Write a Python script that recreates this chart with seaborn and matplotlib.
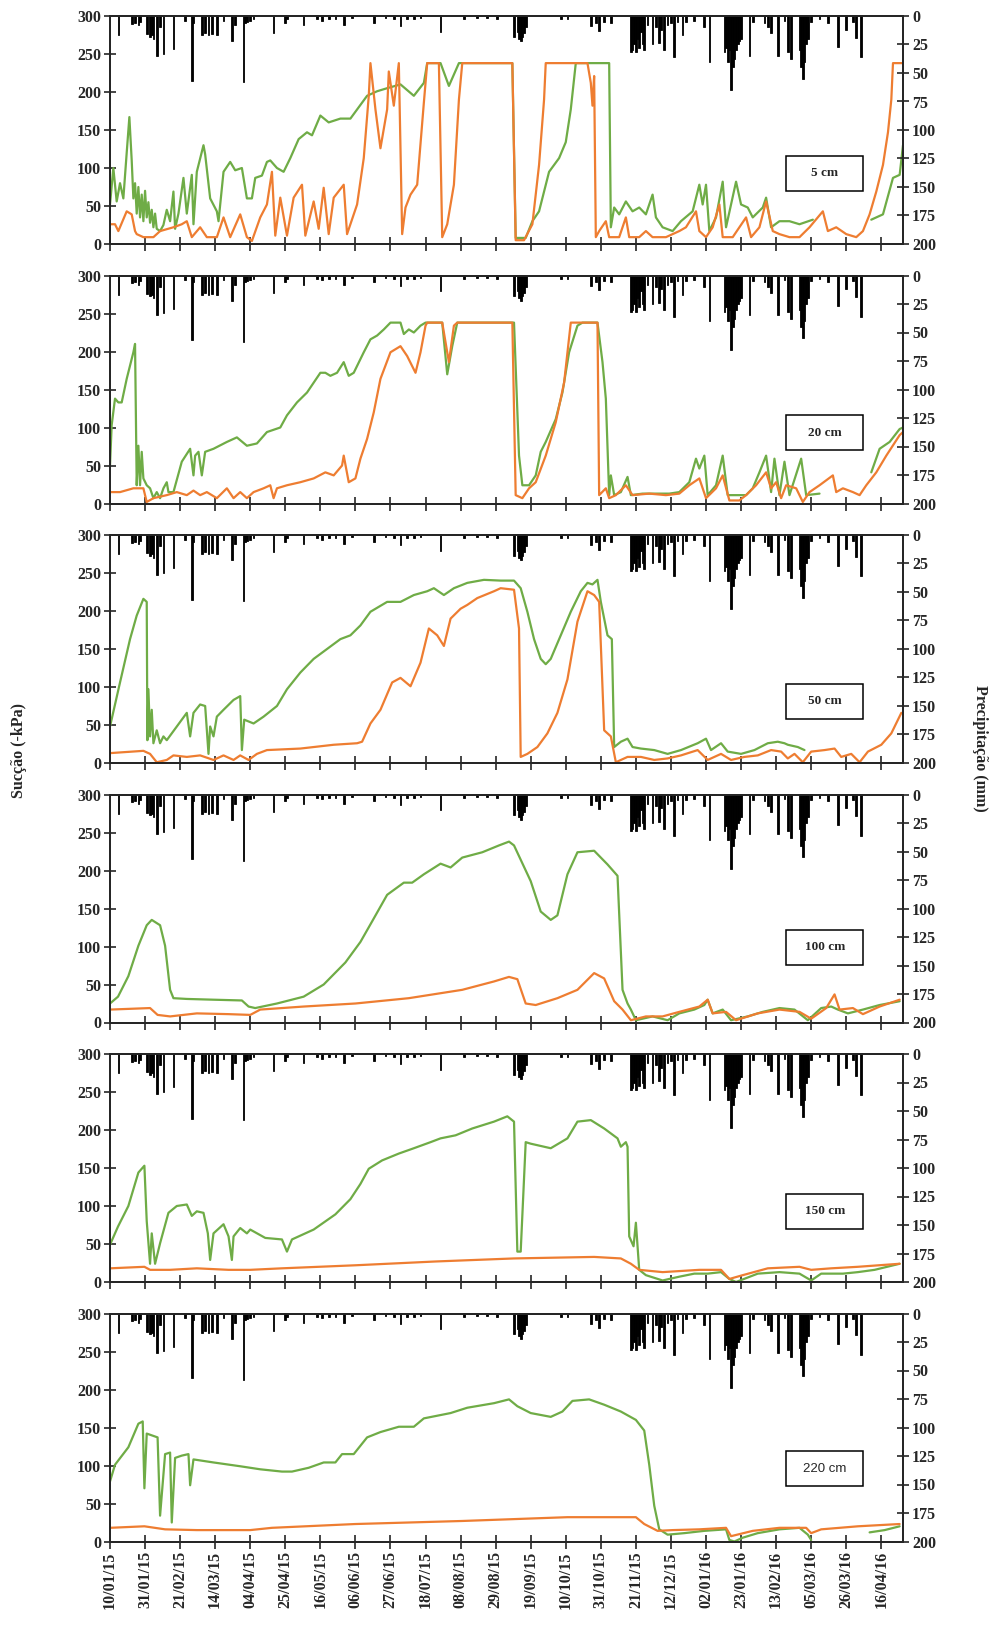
import numpy as np
import pandas as pd
import matplotlib
matplotlib.use("Agg")
import matplotlib.pyplot as plt
from matplotlib.patches import Rectangle
import seaborn as sns

# dias contados a partir de 10/01/15
datas = ['10/01/15', '31/01/15', '21/02/15', '14/03/15', '04/04/15', '25/04/15', '16/05/15',
         '06/06/15', '27/06/15', '18/07/15', '08/08/15', '29/08/15', '19/09/15', '10/10/15',
         '31/10/15', '21/11/15', '12/12/15', '02/01/16', '23/01/16', '13/02/16', '05/03/16',
         '26/03/16', '16/04/16']

# precipitacao diaria (mm)
chuva_dia = [5, 13, 15, 17, 18, 22, 24, 25, 26, 28, 30, 32, 38, 45, 49, 50, 55, 57, 59, 61, 64, 68,
             73, 75, 80, 81, 82, 84, 86, 98, 105, 106, 116, 124, 127, 131, 135, 140, 145, 158, 165,
             170, 174, 178, 182, 186, 198, 212, 220, 226, 232, 242, 244, 245, 246, 247, 248, 249,
             270, 274, 288, 291, 293, 296, 300, 312, 313, 314, 315, 316, 317, 318, 319, 320, 322,
             325, 327, 329, 330, 332, 334, 336, 338, 340, 343, 345, 350, 356, 359, 368, 369, 370,
             371, 372, 373, 374, 375, 376, 377, 378, 383, 385, 392, 394, 396, 400, 404, 406, 408,
             413, 414, 415, 416, 417, 418, 420, 425, 430, 436, 441, 445, 447, 450]
chuva_mm = [17, 7, 6, 8, 5, 16, 18, 17, 20, 35, 10, 33, 29, 4, 57, 6, 17, 15, 17, 16, 17, 4,
            22, 8, 58, 6, 5, 4, 3, 15, 6, 3, 8, 3, 4, 3, 3, 8, 2, 6, 2,
            3, 9, 3, 3, 2, 14, 3, 2, 2, 3, 18, 14, 20, 22, 18, 15, 10,
            3, 3, 9, 6, 13, 5, 6, 32, 30, 25, 32, 20, 28, 14, 25, 30, 8,
            25, 10, 24, 12, 30, 8, 6, 36, 5, 17, 5, 4, 10, 40, 32, 28, 40,
            30, 65, 45, 38, 30, 25, 22, 20, 35, 5, 6, 10, 15, 35, 4, 32, 38,
            30, 45, 55, 40, 25, 20, 5, 3, 6, 27, 12, 5, 19, 36]

# succao (-kPa), None = falha na serie
verde_5_dia = [0, 2, 4, 6, 8, 10, 11.6, 13, 14, 15, 16, 17, 18, 19, 20, 21, 22, 23, 24, 25, 26, 27,
               28, 30, 32, 34, 36, 38, 39, 41, 44, 46, 49, 50, 52, 56, 57, 60, 64, 65, 68, 72, 75,
               79, 82, 85, 87, 91, 94, 96, 100, 104, 108, 113, 118, 121, 126, 131, 138, 144, 148,
               154, 160, 166, 174, 182, 188, 190, 198, 203, 209, 241, 243, 249, 253, 257, 263, 269,
               273, 276, 279, 299, 300, 302, 305, 309, 313, 317, 321, 325, 327, 331, 337, 342, 349,
               353, 355, 357, 359, 363, 367, 369, 375, 378, 382, 385, 391, 393, 396, 401, 407, 413,
               421, 430, 456, 463, 469, 473, 475]
verde_5_kpa = [52, 100, 56, 80, 60, 120, 167, 110, 60, 80, 40, 75, 35, 65, 30, 70, 35, 55, 28, 45,
               22, 40, 20, 17, 25, 45, 30, 69, 20, 40, 87, 40, 91, 26, 95, 130, 118, 60, 43, 30,
               95, 108, 97, 100, 60, 60, 87, 90, 108, 110, 100, 95, 113, 138, 147, 143, 169, 160,
               165, 165, 177, 195, 201, 205, 210, 195, 212, 238, 238, 208, 238, 238, 8, 8, 30, 43,
               95, 113, 134, 177, 238, 238, 22, 48, 39, 56, 43, 48, 39, 65, 35, 22, 17, 30, 43, 78,
               52, 78, 17, 35, 82, 22, 82, 52, 48, 35, 48, 61, 22, 30, 30, 26, 32, None, 32, 39,
               87, 91, 130]
laranja_5_dia = [0, 3, 5, 10, 13, 15, 16, 20, 26, 30, 38, 43, 46, 49, 54, 58, 64, 68, 72, 78, 82,
                 85, 90, 94, 97, 99, 102, 106, 110, 115, 117, 122, 125, 128, 131, 134, 140, 142,
                 148, 152, 155, 156, 159, 162, 166, 167, 170, 173, 175, 177, 180, 184, 188, 190,
                 197, 199, 202, 206, 209, 211, 241, 243, 248, 253, 257, 260, 261, 286, 288, 289,
                 290, 291, 293, 297, 299, 305, 309, 311, 317, 321, 325, 333, 341, 345, 351, 353,
                 357, 361, 365, 367, 373, 377, 381, 384, 389, 393, 397, 401, 407, 413, 419, 427,
                 430, 435, 441, 447, 451, 455, 459, 463, 466, 468, 469, 476]
laranja_5_kpa = [26, 26, 17, 43, 39, 17, 13, 9, 9, 17, 22, 26, 30, 9, 22, 9, 9, 35, 9, 39, 9, 4,
                 35, 52, 95, 11, 61, 11, 61, 78, 11, 56, 20, 74, 13, 61, 78, 13, 52, 113, 195, 238,
                 177, 126, 177, 227, 182, 238, 13, 48, 65, 78, 186, 238, 238, 9, 26, 78, 190, 238,
                 238, 5, 5, 26, 104, 190, 238, 238, 212, 182, 221, 9, 17, 30, 9, 9, 35, 9, 9, 17,
                 9, 9, 17, 22, 43, 17, 9, 22, 52, 9, 9, 22, 35, 9, 22, 56, 17, 13, 9, 9, 22, 43,
                 17, 22, 13, 9, 17, 39, 69, 104, 147, 190, 238, 238]

verde_20_dia = [0, 1, 3, 5, 7, 10, 14, 15, 16, 17, 18, 19, 20, 22, 24, 26, 28, 30, 32, 34, 35, 38,
                43, 48, 50, 51, 53, 55, 57, 62, 70, 76, 82, 88, 94, 102, 106, 112, 118, 126, 129,
                132, 136, 140, 143, 146, 152, 156, 160, 164, 168, 174, 176, 179, 182, 186, 189,
                199, 202, 205, 208, 242, 245, 247, 251, 255, 258, 261, 267, 271, 275, 280, 283,
                292, 295, 297, 299, 300, 302, 306, 310, 312, 319, 327, 335, 341, 347, 351, 353,
                356, 358, 363, 367, 370, 381, 385, 389, 393, 396, 398, 401, 404, 407, 414, 417,
                425, 440, 456, 461, 467, 473, 475]
verde_20_kpa = [50, 103, 138, 133, 133, 164, 199, 210, 24, 76, 24, 68, 33, 24, 20, 7, 15, 7, 20, 28,
                15, 15, 55, 72, 37, 63, 68, 37, 68, 72, 81, 87, 76, 79, 94, 100, 116, 133, 146,
                172, 172, 168, 172, 186, 168, 172, 199, 216, 221, 229, 238, 238, 223, 229, 225,
                234, 238, 238, 170, 207, 238, 238, 63, 24, 24, 37, 68, 81, 111, 146, 199, 234, 238,
                238, 186, 138, 11, 37, 11, 15, 35, 11, 13, 13, 13, 15, 28, 59, 46, 63, 11, 24, 63,
                11, 11, 20, 41, 63, 15, 59, 11, 55, 11, 59, 11, 13, None, 41, 72, 81, 98, 100]
laranja_20_dia = [0, 6, 14, 20, 22, 26, 34, 40, 46, 50, 54, 58, 64, 70, 74, 78, 82, 86, 92, 96, 98,
                  100, 106, 114, 122, 129, 134, 139, 140, 143, 147, 150, 154, 158, 162, 168, 174,
                  178, 183, 186, 189, 190, 199, 203, 206, 208, 241, 243, 247, 251, 255, 261, 267,
                  272, 276, 292, 293, 297, 299, 303, 309, 313, 323, 333, 341, 347, 353, 357, 363,
                  367, 371, 377, 381, 387, 393, 396, 399, 402, 405, 411, 415, 419, 425, 433, 435,
                  439, 445, 449, 453, 459, 465, 473, 476]
laranja_20_kpa = [15, 15, 20, 20, 2, 7, 11, 15, 11, 17, 11, 15, 7, 20, 7, 15, 7, 15, 20, 24, 7, 20,
                  24, 28, 33, 41, 37, 50, 63, 28, 33, 59, 85, 120, 164, 199, 207, 194, 172, 199,
                  234, 238, 238, 186, 234, 238, 238, 11, 7, 20, 28, 63, 107, 159, 238, 238, 11, 20,
                  7, 11, 24, 11, 13, 11, 13, 24, 33, 7, 20, 37, 4, 4, 11, 24, 41, 20, 28, 7, 24,
                  20, 2, 15, 24, 37, 15, 20, 15, 11, 24, 41, 63, 90, 96]

verde_50_dia = [0, 6, 12, 16, 20, 22, 22.4, 23, 24, 25, 26, 28, 30, 32, 34, 40, 46, 48, 50, 54, 57,
                59, 60, 62, 64, 68, 74, 78, 79, 80.4, 86, 92, 100, 106, 114, 122, 130, 138, 144,
                150, 156, 166, 174, 182, 190, 194, 200, 206, 214, 224, 234, 242, 246, 250, 254,
                258, 261, 264, 270, 276, 282, 286, 289, 292, 294, 298, 300.6, 302, 306, 310, 313,
                318, 326, 334, 342, 352, 357, 360, 366, 370, 378, 386, 394, 400, 404, 406, 412,
                416]
verde_50_kpa = [48, 106, 163, 194, 216, 212, 30, 97, 35, 70, 26, 43, 26, 35, 30, 48, 66, 35, 66,
                77, 75, 12, 48, 35, 61, 70, 83, 88, 17, 57, 52, 61, 75, 97, 119, 137, 150, 163, 168,
                181, 199, 212, 212, 221, 226, 230, 221, 230, 237, 241, 240, 240, 230, 199, 163,
                137, 130, 137, 168, 199, 226, 237, 235, 241, 212, 168, 163, 21, 28, 32, 21, 19, 17,
                12, 17, 26, 32, 17, 26, 15, 12, 17, 26, 28, 26, 24, 21, 17]
laranja_50_dia = [0, 20, 24, 28, 34, 38, 46, 54, 62, 68, 74, 78, 83, 88, 94, 114, 134, 148, 151,
                  156, 162, 169, 174, 180, 186, 191, 196, 200, 204, 210, 214, 220, 230, 234, 242,
                  245, 246, 250, 256, 262, 268, 274, 280, 286, 290, 293, 296, 300, 303, 310, 318,
                  326, 334, 342, 352, 358, 366, 372, 380, 388, 396, 402, 406, 410, 415, 420, 428,
                  434, 438, 444, 449, 454, 462, 468, 474]
laranja_50_kpa = [13, 16, 12, 1, 4, 10, 8, 10, 4, 10, 4, 10, 4, 12, 17, 19, 24, 26, 28, 52, 70, 106,
                  112, 101, 132, 177, 168, 154, 190, 203, 208, 217, 226, 230, 228, 177, 8, 12, 21,
                  39, 66, 110, 186, 226, 221, 212, 43, 35, 1, 8, 8, 4, 6, 10, 17, 4, 12, 4, 8, 10,
                  17, 15, 6, 12, 1, 15, 17, 19, 8, 12, 1, 15, 24, 39, 66]

verde_100_dia = [0, 4.8, 11, 17, 22, 25, 30, 33, 36, 38, 46, 62, 79, 83, 87, 100, 116, 128, 141, 150,
                 157, 166, 176, 181, 188, 198, 204, 211, 223, 233, 239, 242, 252, 258, 264, 268, 274,
                 280, 290, 298, 304, 307, 310, 312, 315, 325, 334, 341, 350, 356, 358, 361, 367, 372,
                 382, 391, 401, 410, 418, 426, 432, 436, 442, 451, 461, 473]
verde_100_kpa = [25, 34, 61, 101, 128, 135, 128, 101, 43, 32, 31, 30, 29, 21, 19, 25, 34, 50, 79, 106,
                 133, 168, 184, 184, 195, 209, 204, 217, 224, 233, 238, 233, 186, 146, 135, 141, 195,
                 224, 226, 208, 193, 43, 25, 17, 3, 8, 3, 12, 17, 23, 30, 12, 17, 3, 8, 14, 19, 17,
                 3, 19, 21, 17, 12, 17, 23, 28]
laranja_100_dia = [0, 24, 28.5, 36, 52, 71, 84, 90, 116, 147, 179, 211, 230, 239, 244, 249, 255, 268,
                   280, 290, 296, 302, 307, 312, 321, 331, 341, 353, 358, 361, 369, 375, 388, 401,
                   413, 420, 429, 434, 437, 445, 451, 461, 473]
laranja_100_kpa = [17, 19, 10, 8, 12, 11, 10, 17, 21, 25, 32, 43, 54, 60, 57, 25, 23, 32, 43, 65, 58,
                   28, 17, 3, 8, 8, 14, 21, 30, 12, 14, 3, 12, 17, 14, 5, 19, 37, 17, 19, 11, 21, 30]

verde_150_dia = [0, 4.8, 11, 17, 20.6, 22, 24, 25, 27, 30, 35, 40, 46, 49, 52, 56, 58.6, 60, 62, 68,
                 71, 73, 74, 78, 82, 84, 93, 103, 106, 109, 122, 135, 144, 150, 155, 163, 173, 182,
                 192, 198, 207, 217, 230, 238, 242, 244, 246, 249, 252, 264, 274, 280, 288, 296, 304,
                 306, 309, 310, 311, 313.6, 315, 317, 321, 331, 341, 350, 358, 366, 371, 375, 388,
                 401, 413, 420, 426, 439, 448, 458, 473]
verde_150_kpa = [49, 73, 100, 144, 153, 80, 24, 64, 24, 51, 91, 100, 102, 87, 93, 91, 64, 29, 64, 76,
                 60, 29, 60, 71, 64, 69, 58, 56, 40, 56, 69, 89, 109, 129, 149, 160, 169, 176, 184,
                 189, 193, 202, 211, 218, 211, 40, 40, 184, 182, 176, 189, 211, 213, 202, 189, 178,
                 184, 178, 60, 47, 78, 16, 9, 2, 7, 11, 11, 13, 4, 0, 11, 13, 11, 2, 11, 11, 13, 16,
                 24]
laranja_150_dia = [0, 20.6, 24, 36, 52, 71, 84, 103, 147, 195, 242, 290, 306, 312, 317, 331, 353,
                   366, 371, 379, 394, 413, 420, 432, 448, 473]
laranja_150_kpa = [18, 20, 16, 16, 18, 16, 16, 18, 22, 27, 31, 33, 31, 24, 16, 13, 16, 16, 4, 9, 18,
                   20, 16, 18, 20, 24]

verde_220_dia = [0, 3, 11, 17, 19.6, 20.6, 22, 28.5, 30, 33, 36, 37, 39, 43, 47, 48, 50, 62, 78, 90,
                 103, 109, 119, 128, 135, 139, 146, 154, 162, 173, 182, 188, 204, 214, 230, 239, 244,
                 252, 264, 271, 277, 287, 296, 306, 315, 320, 323, 326, 329, 334, 344, 356, 369, 371,
                 374, 379, 388, 401, 413, 418, 420, 440, 455, 464, 473]
verde_220_kpa = [79, 101, 124, 155, 158, 70, 142, 137, 34, 115, 117, 25, 110, 113, 115, 74, 108, 104,
                 99, 95, 92, 92, 97, 104, 104, 115, 115, 137, 144, 151, 151, 162, 169, 176, 182, 187,
                 178, 169, 164, 171, 185, 187, 180, 171, 160, 146, 101, 47, 16, 9, 11, 14, 16, 2, 0,
                 5, 11, 16, 18, 9, 2, None, 12, 15, 20]
laranja_220_dia = [0, 20.6, 33, 52, 84, 97, 147, 211, 274, 315, 320, 328, 337, 353, 369, 372, 385,
                   401, 417, 420, 426, 448, 473]
laranja_220_kpa = [18, 20, 16, 15, 15, 18, 23, 27, 32, 32, 23, 14, 15, 16, 18, 7, 14, 18, 18, 11, 16,
                   20, 23]

paineis = [
    ('5 cm', verde_5_dia, verde_5_kpa, laranja_5_dia, laranja_5_kpa),
    ('20 cm', verde_20_dia, verde_20_kpa, laranja_20_dia, laranja_20_kpa),
    ('50 cm', verde_50_dia, verde_50_kpa, laranja_50_dia, laranja_50_kpa),
    ('100 cm', verde_100_dia, verde_100_kpa, laranja_100_dia, laranja_100_kpa),
    ('150 cm', verde_150_dia, verde_150_kpa, laranja_150_dia, laranja_150_kpa),
    ('220 cm', verde_220_dia, verde_220_kpa, laranja_220_dia, laranja_220_kpa),
]

VERDE = '#6fac46'
LARANJA = '#ee7d31'

sns.set_style('ticks')
plt.rcParams['font.family'] = ['Liberation Serif', 'DejaVu Serif']
plt.rcParams['font.weight'] = 'bold'
plt.rcParams['axes.linewidth'] = 1.4


def serie(dias, valores):
    # quebra a linha onde ha falha (None)
    df = pd.DataFrame({'dia': dias, 'kpa': valores})
    df['kpa'] = pd.to_numeric(df['kpa'])
    df['seg'] = df['kpa'].isna().cumsum()
    return df.dropna()


fig = plt.figure(figsize=(9.96, 16.3), dpi=100)
W, H = 996.0, 1630.0
esq, dir_ = 110 / W, 903 / W
passo, altura = 259.5, 228.0
pos_caixa = [0.31, 0.31, 0.27, 0.33, 0.31, 0.32]

for i, (nome, vd, vk, ld, lk) in enumerate(paineis):
    topo = 16 + passo * i
    ax = fig.add_axes([esq, 1 - (topo + altura) / H, dir_ - esq, altura / H])
    ax2 = ax.twinx()

    sns.lineplot(data=serie(vd, vk), x='dia', y='kpa', units='seg', estimator=None, sort=False,
                 color=VERDE, lw=1.6, ax=ax, legend=False)
    sns.lineplot(data=serie(ld, lk), x='dia', y='kpa', units='seg', estimator=None, sort=False,
                 color=LARANJA, lw=1.6, ax=ax, legend=False)
    ax2.bar(chuva_dia, chuva_mm, width=1.0, color='black', edgecolor='black', lw=0.6,
            align='center')

    ax.set_xlim(0, 475)
    ax.set_ylim(0, 300)
    ax2.set_ylim(200, 0)
    ax.set_yticks(np.arange(0, 301, 50))
    ax2.set_yticks(np.arange(0, 201, 25))
    ax.set_xticks(np.arange(0, 463, 21))
    ax.set_xlabel('')
    ax.set_ylabel('')
    for a in (ax, ax2):
        a.tick_params(direction='inout', length=9, width=1.2, labelsize=11.5, pad=2)
    ax.tick_params(axis='x', length=10)
    if i == len(paineis) - 1:
        ax.set_xticklabels(datas, rotation=90)
    else:
        ax.set_xticklabels([])
    for lab in ax.get_yticklabels() + ax2.get_yticklabels() + ax.get_xticklabels():
        lab.set_fontweight('bold')

    cy = pos_caixa[i]
    ax.add_patch(Rectangle((0.853, cy - 0.077), 0.097, 0.154, transform=ax.transAxes,
                           facecolor='white', edgecolor='black', lw=1.1, zorder=5))
    fam = ['Liberation Sans', 'DejaVu Sans'] if nome == '220 cm' else ['Liberation Serif', 'DejaVu Serif']
    ax.text(0.9015, cy, nome, transform=ax.transAxes, ha='center', va='center', fontsize=9.5,
            fontweight='bold' if nome != '220 cm' else 'normal', family=fam, zorder=6)

fig.text(19 / W, 1 - 750 / H, 'Sucção (-kPa)', rotation=90, ha='center', va='center',
         fontsize=11.5, fontweight='bold')
fig.text(980 / W, 1 - 748 / H, 'Precipitação (mm)', rotation=270, ha='center', va='center',
         fontsize=11.5, fontweight='bold')

fig.savefig('out.png', dpi=100)
